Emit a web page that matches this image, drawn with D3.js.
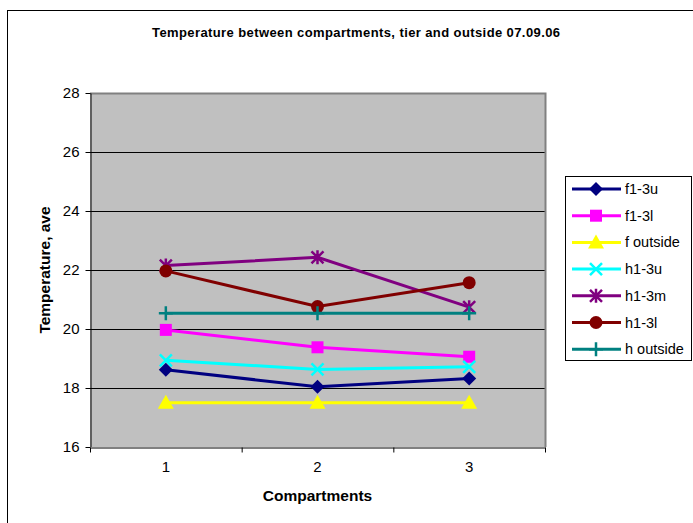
<!DOCTYPE html>
<html>
<head>
<meta charset="utf-8">
<script src="https://cdn.jsdelivr.net/npm/d3@7"></script>
<style>
  body { margin: 0; background: #fff; }
  svg { display: block; font-family: "Liberation Sans", Arial, sans-serif; }
</style>
</head>
<body>
<svg id="chart" width="693" height="523"></svg>
<script>
// compartments on the x axis
const compartments = ["1", "2", "3"];
const yTicks = [16, 18, 20, 22, 24, 26, 28];

// series values
const seriesNames = ["f1-3u", "f1-3l", "f outside", "h1-3u", "h1-3m", "h1-3l", "h outside"];
const f13u = [18.62, 18.04, 18.32];
const f13l = [19.97, 19.38, 19.06];
const fOutside = [17.5, 17.5, 17.5];
const h13u = [18.94, 18.63, 18.72];
const h13m = [22.15, 22.43, 20.74];
const h13l = [21.97, 20.76, 21.57];
const hOutside = [20.53, 20.53, 20.53];

const seriesValues = [f13u, f13l, fOutside, h13u, h13m, h13l, hOutside];
const colors = ["#000080", "#ff00ff", "#ffff00", "#00ffff", "#800080", "#800000", "#008080"];
const markers = ["diamond", "square", "triangle", "x", "star", "circle", "plus"];

const series = seriesNames.map((name, i) => ({
    name: name,
    color: colors[i],
    marker: markers[i],
    values: seriesValues[i]
}));

const svg = d3.select("#chart");

// outer chart border
svg.append("rect")
    .attr("x", 7.5).attr("y", 10.5)
    .attr("width", 720).attr("height", 600)
    .attr("fill", "#fff")
    .attr("stroke", "#000")
    .attr("stroke-width", 1);

const plot = { left: 90, right: 545, top: 93, bottom: 447 };

const x = d3.scaleBand()
    .domain(compartments)
    .range([plot.left, plot.right]);

const y = d3.scaleLinear()
    .domain([16, 28])
    .range([plot.bottom, plot.top]);

// plot background
svg.append("rect")
    .attr("x", plot.left).attr("y", plot.top)
    .attr("width", plot.right - plot.left)
    .attr("height", plot.bottom - plot.top)
    .attr("fill", "#c0c0c0");

// gridlines
svg.append("g")
    .selectAll("line")
    .data(yTicks.slice(1, -1))
    .join("line")
    .attr("x1", plot.left).attr("x2", plot.right)
    .attr("y1", d => Math.round(y(d)) + 0.5)
    .attr("y2", d => Math.round(y(d)) + 0.5)
    .attr("stroke", "#000")
    .attr("stroke-width", 1);

// plot frame on top / right
svg.append("path")
    .attr("d", `M${plot.left},${plot.top + 0.5}H${plot.right + 0.5}V${plot.bottom}`)
    .attr("fill", "none")
    .attr("stroke", "#808080")
    .attr("stroke-width", 2);

// y axis
const yAxis = svg.append("g")
    .attr("transform", `translate(${plot.left + 0.5},0)`)
    .call(d3.axisLeft(y).tickValues(yTicks).tickSize(5).tickPadding(6).tickSizeOuter(0));
yAxis.select(".domain").attr("stroke", "#000");
yAxis.selectAll("text").attr("font-size", 15).attr("fill", "#000")
    .attr("font-family", "Liberation Sans, Arial, sans-serif");

// x axis
const xAxis = svg.append("g")
    .attr("transform", `translate(0,${plot.bottom + 0.5})`)
    .call(d3.axisBottom(x).tickSize(0).tickPadding(14));
xAxis.select(".domain").attr("stroke", "#808080").attr("stroke-width", 2);
xAxis.selectAll("text").attr("font-size", 15).attr("fill", "#000")
    .attr("font-family", "Liberation Sans, Arial, sans-serif");
// tick marks between categories
xAxis.selectAll("line.sep")
    .data([0, 1, 2, 3])
    .join("line")
    .attr("class", "sep")
    .attr("x1", i => plot.left + i * x.bandwidth() + 0.5)
    .attr("x2", i => plot.left + i * x.bandwidth() + 0.5)
    .attr("y1", 0).attr("y2", 5)
    .attr("stroke", "#000");

// titles
svg.append("text")
    .attr("x", 356).attr("y", 37)
    .attr("text-anchor", "middle")
    .attr("font-size", 13).attr("font-weight", "bold")
    .attr("textLength", 408).attr("lengthAdjust", "spacing")
    .text("Temperature between compartments, tier and outside 07.09.06");

svg.append("text")
    .attr("x", (plot.left + plot.right) / 2).attr("y", 501)
    .attr("text-anchor", "middle")
    .attr("font-size", 15.5).attr("font-weight", "bold")
    .text("Compartments");

svg.append("text")
    .attr("transform", `translate(50,${(plot.top + plot.bottom) / 2}) rotate(-90)`)
    .attr("text-anchor", "middle")
    .attr("font-size", 15.5).attr("font-weight", "bold")
    .text("Temperature,  ave");

function drawMarker(g, type, color) {
    if (type === "diamond") {
        g.append("path").attr("d", "M0,-7L7,0L0,7L-7,0Z").attr("fill", color);
    } else if (type === "square") {
        g.append("rect").attr("x", -6).attr("y", -6).attr("width", 12).attr("height", 12).attr("fill", color);
    } else if (type === "triangle") {
        g.append("path").attr("d", "M0,-8L8,6L-8,6Z").attr("fill", color);
    } else if (type === "x") {
        g.append("path").attr("d", "M-6,-6L6,6M-6,6L6,-6").attr("stroke", color).attr("stroke-width", 2.5);
    } else if (type === "star") {
        g.append("path").attr("d", "M-6,-6L6,6M-6,6L6,-6M0,-7V7").attr("stroke", color).attr("stroke-width", 2.5);
    } else if (type === "circle") {
        g.append("circle").attr("r", 6.5).attr("fill", color);
    } else if (type === "plus") {
        g.append("path").attr("d", "M-7,0H7M0,-7V7").attr("stroke", color).attr("stroke-width", 2.5);
    }
}

const line = d3.line()
    .x((d, i) => x(compartments[i]) + x.bandwidth() / 2)
    .y(d => y(d));

const lines = svg.append("g");
series.forEach(s => {
    lines.append("path")
        .attr("d", line(s.values))
        .attr("fill", "none")
        .attr("stroke", s.color)
        .attr("stroke-width", 3);
    s.values.forEach((v, i) => {
        const m = lines.append("g")
            .attr("transform", `translate(${x(compartments[i]) + x.bandwidth() / 2},${y(v)})`);
        drawMarker(m, s.marker, s.color);
    });
});

// legend
const legend = svg.append("g");
legend.append("rect")
    .attr("x", 565.5).attr("y", 176.5)
    .attr("width", 126).attr("height", 184)
    .attr("fill", "#fff")
    .attr("stroke", "#000");

const entries = legend.selectAll("g.entry")
    .data(series)
    .join("g")
    .attr("class", "entry")
    .attr("transform", (d, i) => `translate(0,${189 + i * 26.7})`);

entries.append("line")
    .attr("x1", 572).attr("x2", 621)
    .attr("stroke", d => d.color)
    .attr("stroke-width", 3);

entries.each(function (d) {
    const m = d3.select(this).append("g").attr("transform", "translate(596,0)");
    drawMarker(m, d.marker, d.color);
});

entries.append("text")
    .attr("x", 625).attr("y", 5)
    .attr("font-size", 14.5)
    .text(d => d.name);
</script>
</body>
</html>
